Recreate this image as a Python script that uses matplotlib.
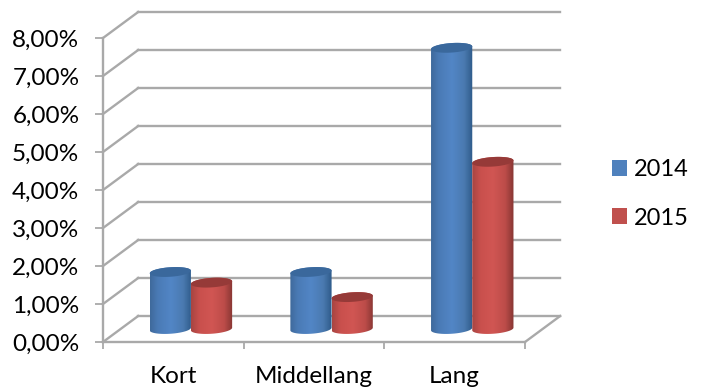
import numpy as np
import matplotlib
matplotlib.use("Agg")
import matplotlib.pyplot as plt
from matplotlib.colors import LinearSegmentedColormap
from matplotlib.patches import Patch, Polygon

plt.rcParams['font.family'] = ['Lato', 'DejaVu Sans']

categories = ['Kort', 'Middellang', 'Lang']
values_2014 = [1.5, 1.5, 7.4]
values_2015 = [1.22, 0.84, 4.4]
y_ticks = [0, 1, 2, 3, 4, 5, 6, 7, 8]

# depth of the fake 3D box, in data units
depth_x = 0.25
depth_y = 0.684
bar_width = 0.293
grid_color = '#a9a9a9'
label_size = 17.5

blue_cmap = LinearSegmentedColormap.from_list('blue_cyl', [(0, '#3f6a9c'), (0.18, '#4a7ab5'), (0.5, '#5286c6'), (0.8, '#4a7ab0'), (1, '#2f5b8a')])
red_cmap = LinearSegmentedColormap.from_list('red_cyl', [(0, '#a84542'), (0.2, '#c9504d'), (0.5, '#d15653'), (0.8, '#bc4c49'), (1, '#873633')])

fig = plt.figure(figsize=(7.06, 3.91), dpi=100)
ax = fig.add_axes([103 / 706, 49 / 391, 422 / 706, 304 / 391])


def cylinder(x_left, value, cmap, top_color):
    # side wall is a gradient image clipped to the outline, lid is a flat ellipse
    base = depth_y / 2
    top = base + value
    t = np.linspace(0, np.pi, 40)
    half_h = 0.125
    tilt = 0.035
    xc = x_left + bar_width / 2
    ex = xc - np.cos(t) * bar_width / 2
    lid_up = np.sin(t) * half_h - np.cos(t) * tilt
    lid_down = -np.sin(t) * half_h - np.cos(t) * tilt
    outline = np.vstack([
        np.column_stack([ex, top + lid_up]),
        np.column_stack([ex[::-1], base + lid_down[::-1]]),
    ])
    gradient = np.linspace(0, 1, 64).reshape(1, -1)
    im = ax.imshow(gradient, cmap=cmap, aspect='auto', interpolation='bilinear',
                   extent=[x_left, x_left + bar_width, base - 0.2, top + 0.2], zorder=4)
    im.set_clip_path(Polygon(outline, closed=True, transform=ax.transData))
    lid = np.vstack([np.column_stack([ex, top + lid_up]),
                     np.column_stack([ex[::-1], top + lid_down[::-1]])])
    ax.add_patch(Polygon(lid, closed=True, facecolor=top_color, edgecolor='none', zorder=5))


# back wall gridlines and left wall diagonals
for tick in y_ticks:
    ax.plot([depth_x, 3 + depth_x], [tick + depth_y, tick + depth_y], color=grid_color, lw=1.7, clip_on=False, zorder=1)
    ax.plot([0, depth_x], [tick, tick + depth_y], color=grid_color, lw=1.7, clip_on=False, zorder=1)
ax.plot([3, 3 + depth_x], [0, depth_y], color=grid_color, lw=1.7, clip_on=False, zorder=1)

for i in range(len(categories)):
    center = i + 0.5 + depth_x / 2
    cylinder(center - bar_width, values_2014[i], blue_cmap, '#3a689c')
    cylinder(center, values_2015[i], red_cmap, '#963a38')

ax.set_xlim(0, 3)
ax.set_ylim(0, 8)

for side in ['top', 'right']:
    ax.spines[side].set_visible(False)
for side in ['left', 'bottom']:
    ax.spines[side].set_color(grid_color)
    ax.spines[side].set_linewidth(1.7)

ax.set_yticks(y_ticks)
ax.set_yticklabels([f'{t},00%' for t in y_ticks], fontsize=label_size)
ax.set_xticks([0, 1, 2, 3])
ax.set_xticklabels([])
ax.set_xticks([0.5, 1.5, 2.5], minor=True)
ax.set_xticklabels(categories, minor=True, fontsize=label_size)
ax.tick_params(axis='y', length=6, width=1.3, color=grid_color, pad=11)
ax.tick_params(axis='x', which='major', length=5, width=1.3, color=grid_color)
ax.tick_params(axis='x', which='minor', length=0, pad=17)

handles = [Patch(facecolor='#4f81bd', label='2014'), Patch(facecolor='#c0504d', label='2015')]
fig.legend(handles=handles, loc='center left', bbox_to_anchor=(591 / 706, 1 - 194 / 391), frameon=False,
           fontsize=17, handlelength=0.64, handleheight=0.64, handletextpad=0.29, labelspacing=1.15)

fig.savefig('out.png', dpi=100)
